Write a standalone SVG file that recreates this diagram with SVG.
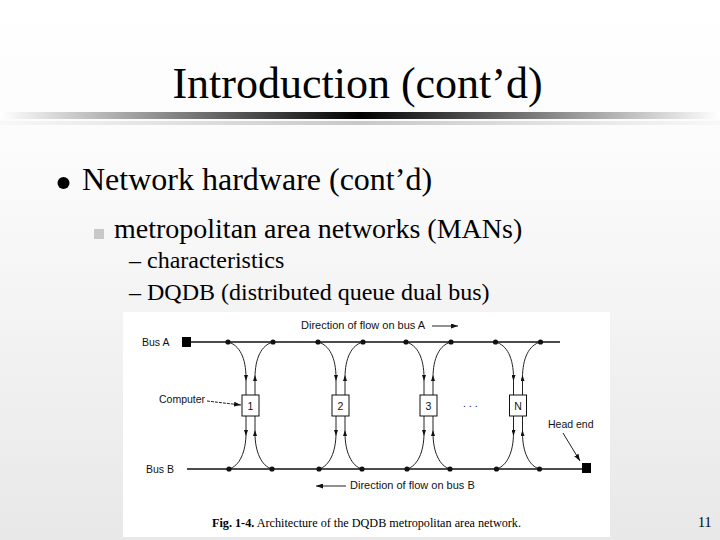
<svg xmlns="http://www.w3.org/2000/svg" width="720" height="540" viewBox="0 0 720 540">
<defs>
<linearGradient id="bg" x1="0" y1="0" x2="0" y2="1">
<stop offset="0" stop-color="#ffffff"/><stop offset="0.3" stop-color="#fbfbfb"/><stop offset="1" stop-color="#e8e8e8"/>
</linearGradient>
<linearGradient id="bar" x1="0" y1="0" x2="1" y2="0">
<stop offset="0" stop-color="#ffffff"/><stop offset="0.5" stop-color="#000000"/><stop offset="1" stop-color="#ffffff"/>
</linearGradient>
<linearGradient id="bar2" x1="0" y1="0" x2="1" y2="0">
<stop offset="0" stop-color="#f8f8f8"/><stop offset="0.5" stop-color="#c8c8c8"/><stop offset="1" stop-color="#f8f8f8"/>
</linearGradient>
<linearGradient id="fade" x1="0" y1="0" x2="1" y2="0">
<stop offset="0" stop-color="#111"/><stop offset="1" stop-color="#ffffff"/>
</linearGradient>
<marker id="ah" viewBox="0 0 6 4" refX="3" refY="2" markerWidth="6" markerHeight="4" markerUnits="userSpaceOnUse" orient="auto">
<path d="M0,0 L6,2 L0,4 z" fill="#111"/>
</marker>
<marker id="ae" viewBox="0 0 7 5" refX="7" refY="2.5" markerWidth="7" markerHeight="5" markerUnits="userSpaceOnUse" orient="auto">
<path d="M0,0 L7,2.5 L0,5 z" fill="#111"/>
</marker>
<g id="station">
<path class="c" d="M-22.5,342 C-11,345 -4.5,358 -4.5,378 L-4.5,395"/>
<path class="c" d="M4.5,395 L4.5,378 C4.5,358 11,345 22.5,342"/>
<path class="c" d="M-4.5,416 L-4.5,433 C-4.5,452 -11,466 -21.5,469"/>
<path class="c" d="M21.5,469 C11,466 4.5,452 4.5,433 L4.5,416"/>
<circle cx="-22.5" cy="342" r="2.6" fill="#111"/>
<circle cx="22.5" cy="342" r="2.6" fill="#111"/>
<circle cx="-21.5" cy="469" r="2.6" fill="#111"/>
<circle cx="21.5" cy="469" r="2.6" fill="#111"/>
<rect x="-8.5" y="395" width="17" height="21" fill="#fff" stroke="#111" stroke-width="1"/>
</g>
</defs>
<style>
.serif{font-family:"Liberation Serif","Times New Roman",serif;fill:#000}
.sans{font-family:"Liberation Sans",Arial,sans-serif;font-size:10.5px;fill:#111}
.dir{font-size:11px}
.c{fill:none;stroke:#222;stroke-width:1;marker-mid:url(#ah)}
.ln{fill:none;stroke:#222;stroke-width:1}
.bus{fill:none;stroke:#111;stroke-width:1.3}
</style>
<rect width="720" height="540" fill="url(#bg)"/>
<rect x="0" y="112" width="720" height="7" fill="url(#bar)"/>
<rect x="0" y="121" width="720" height="4" fill="url(#bar2)"/>
<text class="serif" x="357.5" y="98" font-size="44" text-anchor="middle">Introduction (cont’d)</text>
<circle cx="63.5" cy="183" r="6" fill="#000"/>
<text class="serif" x="82" y="190" font-size="32">Network hardware (cont’d)</text>
<rect x="94" y="229" width="10" height="10" fill="#c8c8c8"/>
<text class="serif" x="114" y="238" font-size="28">metropolitan area networks (MANs)</text>
<text class="serif" x="129" y="268" font-size="24">– characteristics</text>
<text class="serif" x="129" y="300" font-size="24">– DQDB (distributed queue dual bus)</text>
<rect x="123" y="312" width="487" height="225" fill="#ffffff"/>
<g id="connectors">
<line class="bus" x1="190" y1="342" x2="560" y2="342"/>
<line x1="560" y1="342" x2="592" y2="342" stroke="url(#fade)" stroke-width="1.3"/>
<line class="bus" x1="187" y1="469" x2="583" y2="469"/>
<line class="ln" x1="432" y1="326" x2="458" y2="326" marker-end="url(#ae)"/>
<line class="ln" x1="346" y1="486" x2="316" y2="486" marker-end="url(#ae)"/>
<line class="ln" x1="207" y1="401" x2="241" y2="405" stroke-dasharray="3,1" marker-end="url(#ae)"/>
<line class="ln" x1="563" y1="433" x2="580" y2="461" marker-end="url(#ae)"/>
</g>
<g id="busA-end"><rect x="182" y="337" width="9" height="10" fill="#000"/></g>
<g id="headend"><rect x="582" y="463" width="9" height="10" fill="#000"/></g>
<g id="n1"><use href="#station" transform="translate(250.5,0)"/><text class="sans" x="250.5" y="409.5" text-anchor="middle">1</text></g>
<g id="n2"><use href="#station" transform="translate(340.5,0)"/><text class="sans" x="340.5" y="409.5" text-anchor="middle">2</text></g>
<g id="n3"><use href="#station" transform="translate(428.5,0)"/><text class="sans" x="428.5" y="409.5" text-anchor="middle">3</text></g>
<g id="nN"><use href="#station" transform="translate(518,0)"/><text class="sans" x="518" y="409.5" text-anchor="middle">N</text></g>
<text class="sans dir" x="301" y="329">Direction of flow on bus A</text>
<text class="sans" x="142" y="346">Bus  A</text>
<text class="sans" x="159" y="403">Computer</text>
<text class="sans" x="463" y="407">. . .</text>
<text class="sans" x="548" y="428">Head end</text>
<text class="sans" x="146" y="473">Bus  B</text>
<text class="sans dir" x="350" y="489">Direction of flow on bus B</text>
<text class="serif" x="212" y="527" font-size="12.2"><tspan font-weight="bold">Fig.  1-4.</tspan> Architecture of the DQDB metropolitan area network.</text>
<text class="serif" x="698" y="527" font-size="14">11</text>
</svg>
